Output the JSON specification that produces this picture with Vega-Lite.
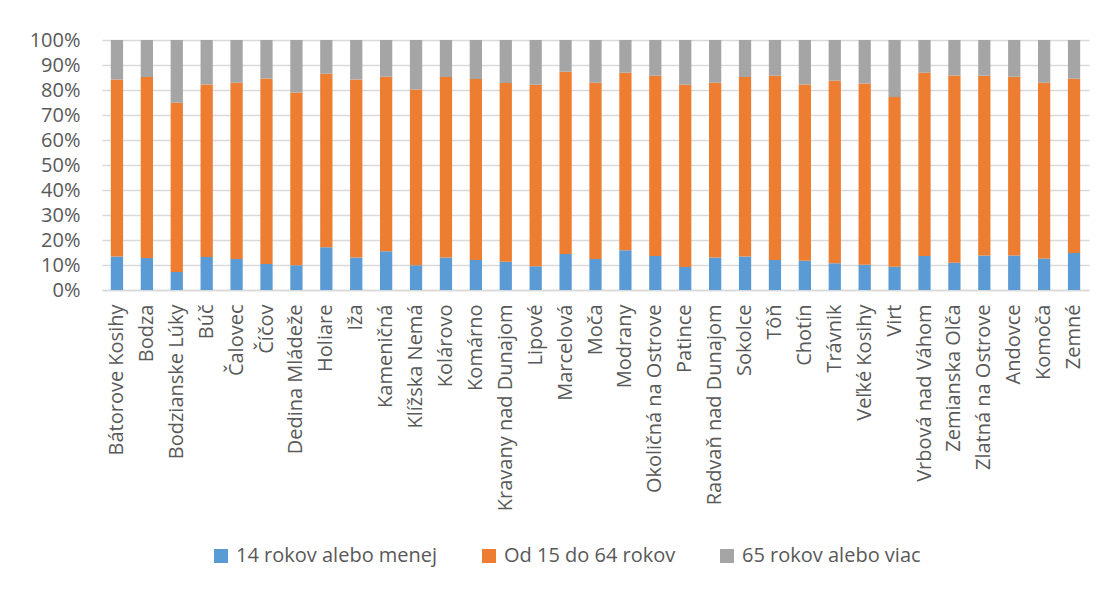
{
  "$schema": "https://vega.github.io/schema/vega-lite/v6.json",
  "autosize": {"type": "none"},
  "width": 987,
  "height": 250,
  "padding": {"left": 102, "top": 40, "right": 16, "bottom": 302},
  "background": "#ffffff",
  "datasets": {
    "skupiny": [
      {"skupina": "14 rokov alebo menej", "poradie": 1},
      {"skupina": "Od 15 do 64 rokov", "poradie": 2},
      {"skupina": "65 rokov alebo viac", "poradie": 3}
    ]
  },
  "data": {
    "values": [
      {"obec": "Bátorove Kosihy", "14 rokov alebo menej": 13.4, "Od 15 do 64 rokov": 70.8, "65 rokov alebo viac": 15.8},
      {"obec": "Bodza", "14 rokov alebo menej": 12.8, "Od 15 do 64 rokov": 72.4, "65 rokov alebo viac": 14.8},
      {"obec": "Bodzianske Lúky", "14 rokov alebo menej": 7.2, "Od 15 do 64 rokov": 67.7, "65 rokov alebo viac": 25.1},
      {"obec": "Búč", "14 rokov alebo menej": 13.2, "Od 15 do 64 rokov": 69.0, "65 rokov alebo viac": 17.8},
      {"obec": "Čalovec", "14 rokov alebo menej": 12.4, "Od 15 do 64 rokov": 70.5, "65 rokov alebo viac": 17.1},
      {"obec": "Číčov", "14 rokov alebo menej": 10.4, "Od 15 do 64 rokov": 74.2, "65 rokov alebo viac": 15.4},
      {"obec": "Dedina Mládeže", "14 rokov alebo menej": 9.9, "Od 15 do 64 rokov": 69.1, "65 rokov alebo viac": 21.0},
      {"obec": "Holiare", "14 rokov alebo menej": 17.1, "Od 15 do 64 rokov": 69.4, "65 rokov alebo viac": 13.5},
      {"obec": "Iža", "14 rokov alebo menej": 13.0, "Od 15 do 64 rokov": 71.2, "65 rokov alebo viac": 15.8},
      {"obec": "Kameničná", "14 rokov alebo menej": 15.5, "Od 15 do 64 rokov": 69.8, "65 rokov alebo viac": 14.7},
      {"obec": "Klížska Nemá", "14 rokov alebo menej": 9.9, "Od 15 do 64 rokov": 70.3, "65 rokov alebo viac": 19.8},
      {"obec": "Kolárovo", "14 rokov alebo menej": 13.0, "Od 15 do 64 rokov": 72.2, "65 rokov alebo viac": 14.8},
      {"obec": "Komárno", "14 rokov alebo menej": 12.0, "Od 15 do 64 rokov": 72.4, "65 rokov alebo viac": 15.6},
      {"obec": "Kravany nad Dunajom", "14 rokov alebo menej": 11.3, "Od 15 do 64 rokov": 71.5, "65 rokov alebo viac": 17.2},
      {"obec": "Lipové", "14 rokov alebo menej": 9.5, "Od 15 do 64 rokov": 72.6, "65 rokov alebo viac": 17.9},
      {"obec": "Marcelová", "14 rokov alebo menej": 14.4, "Od 15 do 64 rokov": 72.9, "65 rokov alebo viac": 12.7},
      {"obec": "Moča", "14 rokov alebo menej": 12.4, "Od 15 do 64 rokov": 70.5, "65 rokov alebo viac": 17.1},
      {"obec": "Modrany", "14 rokov alebo menej": 15.9, "Od 15 do 64 rokov": 71.0, "65 rokov alebo viac": 13.1},
      {"obec": "Okoličná na Ostrove", "14 rokov alebo menej": 13.6, "Od 15 do 64 rokov": 72.1, "65 rokov alebo viac": 14.3},
      {"obec": "Patince", "14 rokov alebo menej": 9.2, "Od 15 do 64 rokov": 72.9, "65 rokov alebo viac": 17.9},
      {"obec": "Radvaň nad Dunajom", "14 rokov alebo menej": 13.0, "Od 15 do 64 rokov": 69.9, "65 rokov alebo viac": 17.1},
      {"obec": "Sokolce", "14 rokov alebo menej": 13.4, "Od 15 do 64 rokov": 71.8, "65 rokov alebo viac": 14.8},
      {"obec": "Tôň", "14 rokov alebo menej": 12.0, "Od 15 do 64 rokov": 73.7, "65 rokov alebo viac": 14.3},
      {"obec": "Chotín", "14 rokov alebo menej": 11.7, "Od 15 do 64 rokov": 70.5, "65 rokov alebo viac": 17.8},
      {"obec": "Trávnik", "14 rokov alebo menej": 10.7, "Od 15 do 64 rokov": 73.0, "65 rokov alebo viac": 16.3},
      {"obec": "Veľké Kosihy", "14 rokov alebo menej": 10.1, "Od 15 do 64 rokov": 72.5, "65 rokov alebo viac": 17.4},
      {"obec": "Virt", "14 rokov alebo menej": 9.3, "Od 15 do 64 rokov": 67.9, "65 rokov alebo viac": 22.8},
      {"obec": "Vrbová nad Váhom", "14 rokov alebo menej": 13.6, "Od 15 do 64 rokov": 73.3, "65 rokov alebo viac": 13.1},
      {"obec": "Zemianska Olča", "14 rokov alebo menej": 10.9, "Od 15 do 64 rokov": 74.9, "65 rokov alebo viac": 14.2},
      {"obec": "Zlatná na Ostrove", "14 rokov alebo menej": 13.8, "Od 15 do 64 rokov": 71.9, "65 rokov alebo viac": 14.3},
      {"obec": "Andovce", "14 rokov alebo menej": 13.8, "Od 15 do 64 rokov": 71.5, "65 rokov alebo viac": 14.7},
      {"obec": "Komoča", "14 rokov alebo menej": 12.6, "Od 15 do 64 rokov": 70.3, "65 rokov alebo viac": 17.1},
      {"obec": "Zemné", "14 rokov alebo menej": 14.8, "Od 15 do 64 rokov": 69.7, "65 rokov alebo viac": 15.5}
    ]
  },
  "transform": [
    {"fold": ["14 rokov alebo menej", "Od 15 do 64 rokov", "65 rokov alebo viac"], "as": ["skupina", "podiel"]},
    {"lookup": "skupina", "from": {"data": {"name": "skupiny"}, "key": "skupina", "fields": ["poradie"]}}
  ],
  "mark": {"type": "bar"},
  "encoding": {
    "x": {
      "field": "obec",
      "type": "nominal",
      "sort": null,
      "scale": {"paddingInner": 0.59, "paddingOuter": 0.295},
      "axis": {
        "title": null,
        "labelAngle": -90,
        "labelFont": "Open Sans",
        "labelFontSize": 20,
        "labelColor": "#595959",
        "labelPadding": 14,
        "ticks": false,
        "domainColor": "#D9D9D9",
        "domainWidth": 1.3,
        "labelLimit": 300
      }
    },
    "y": {
      "field": "podiel",
      "type": "quantitative",
      "stack": "zero",
      "scale": {"domain": [0, 100], "nice": false},
      "axis": {
        "title": null,
        "values": [0, 10, 20, 30, 40, 50, 60, 70, 80, 90, 100],
        "labelExpr": "datum.value + '%'",
        "labelFont": "Open Sans",
        "labelFontSize": 20,
        "labelColor": "#595959",
        "labelPadding": 22,
        "ticks": false,
        "domain": false,
        "gridColor": "#D9D9D9",
        "gridWidth": 1.3
      }
    },
    "order": {"field": "poradie", "type": "quantitative", "sort": "ascending"},
    "color": {
      "field": "skupina",
      "type": "nominal",
      "sort": ["14 rokov alebo menej", "Od 15 do 64 rokov", "65 rokov alebo viac"],
      "scale": {
        "domain": ["14 rokov alebo menej", "Od 15 do 64 rokov", "65 rokov alebo viac"],
        "range": ["#5B9BD5", "#ED7D31", "#A5A5A5"]
      },
      "legend": {
        "title": null,
        "orient": "none",
        "direction": "horizontal",
        "legendX": 109,
        "legendY": 506,
        "symbolType": "square",
        "symbolSize": 196,
        "symbolStrokeWidth": 0,
        "labelFont": "Open Sans",
        "labelFontSize": 20,
        "labelColor": "#595959",
        "labelOffset": 5,
        "columnPadding": 41,
        "labelLimit": 400
      }
    }
  },
  "config": {
    "view": {"stroke": null},
    "font": "Open Sans"
  }
}
